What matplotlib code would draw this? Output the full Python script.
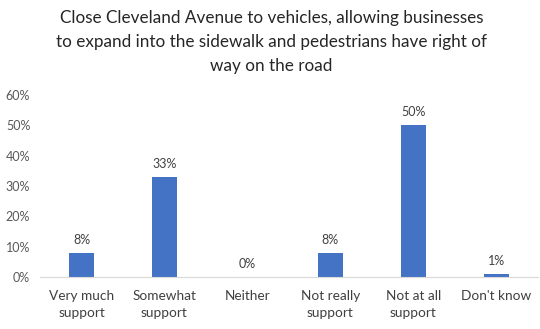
import matplotlib
matplotlib.use("Agg")
import matplotlib.pyplot as plt

plt.rcParams.update({
    "font.family": ["Lato", "DejaVu Sans"],
})

categories = ["Very much\nsupport", "Somewhat\nsupport", "Neither",
              "Not really\nsupport", "Not at all\nsupport", "Don't know"]
values = [0.08, 0.33, 0.0, 0.08, 0.50, 0.01]
value_labels = ["8%", "33%", "0%", "8%", "50%", "1%"]
yticks = [0, 0.1, 0.2, 0.3, 0.4, 0.5, 0.6]
ytick_labels = ["0%", "10%", "20%", "30%", "40%", "50%", "60%"]
title = ("Close Cleveland Avenue to vehicles, allowing businesses\n"
         "to expand into the sidewalk and pedestrians have right of\n"
         "way on the road")

fig = plt.figure(figsize=(5.4, 3.29), dpi=100)
ax = fig.add_axes([0.074, 0.158, 0.922, 0.553])

x = range(len(categories))
bars = ax.bar(x, values, width=0.3, color="#4472C4")
for b, lab in zip(bars, value_labels):
    ax.annotate(lab, (b.get_x() + b.get_width() / 2, b.get_height()),
                xytext=(0, 5), textcoords="offset points",
                ha="center", va="bottom", fontsize=9, color="#404040")

ax.set_xlim(-0.5, len(categories) - 0.5)
ax.set_ylim(0, 0.6)
ax.set_yticks(yticks)
ax.set_yticklabels(ytick_labels)
ax.set_xticks(list(x))
ax.set_xticklabels(categories, linespacing=1.55)
ax.tick_params(axis="y", length=0, labelsize=9, colors="#595959", pad=7)
ax.tick_params(axis="x", length=0, labelsize=9.8, colors="#404040", pad=9)
for s in ["top", "right", "left"]:
    ax.spines[s].set_visible(False)
ax.spines["bottom"].set_color("#D9D9D9")

fig.text(0.503, 0.97, title, ha="center", va="top", fontsize=12.3,
         color="#262626", linespacing=1.62)

fig.savefig("out.png", dpi=100)
